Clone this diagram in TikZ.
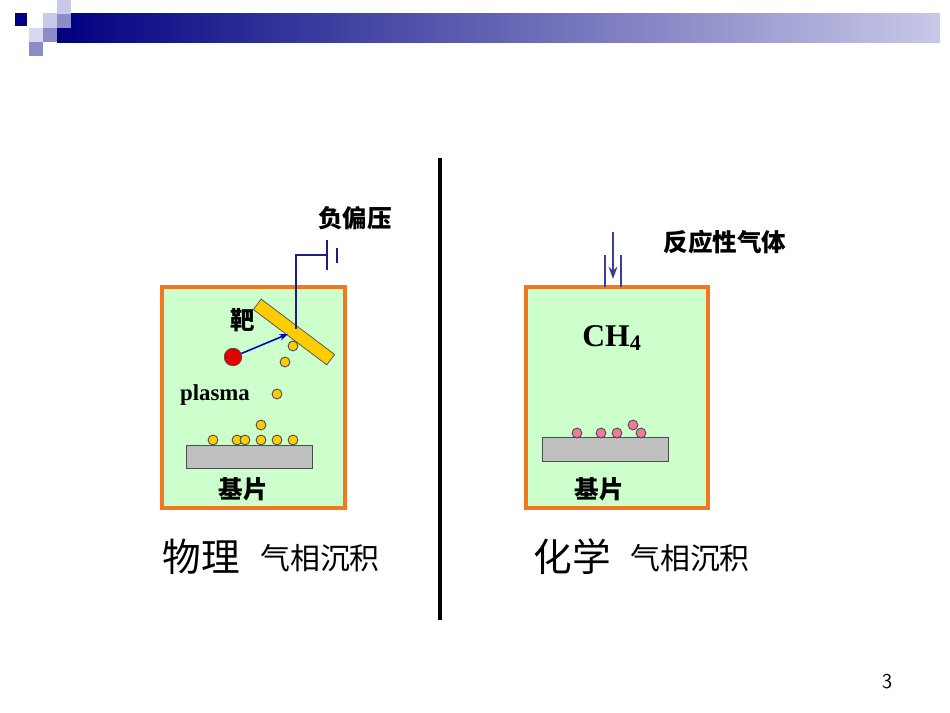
\documentclass[tikz,border=0pt]{standalone}
\usepackage{fontspec}
\setmainfont{Liberation Serif}
\newfontfamily\cjk{Noto Sans CJK SC}
\usetikzlibrary{arrows.meta}
\definecolor{navy}{HTML}{000080}
\definecolor{lav}{HTML}{C8C8E8}
\definecolor{mid}{HTML}{8C8CC8}
\definecolor{boxfill}{HTML}{CCFFCC}
\definecolor{boxline}{HTML}{F07820}
\definecolor{wire}{HTML}{1C1C8C}
\definecolor{pipe}{HTML}{3C3CA0}
\definecolor{gold}{HTML}{FFCC00}
\definecolor{pinkd}{HTML}{F07898}
\tikzset{
 chamber/.style={draw=boxline,fill=boxfill,line width=1.8pt},
 subst/.style={draw=black!70,fill=black!25,line width=0.5pt},
 ydot/.style={circle,draw=black!70,fill=gold,inner sep=0pt,minimum size=5.6pt,line width=0.5pt},
 pdot/.style={circle,draw=black!70,fill=pinkd,inner sep=0pt,minimum size=5.6pt,line width=0.5pt},
 lbl/.style={font=\cjk\bfseries\fontsize{14}{14}\selectfont},
 captext/.style={font=\cjk\fontsize{17}{17}\selectfont},
 capbig/.style={font=\cjk\fontsize{22}{22}\selectfont},
 wirel/.style={draw=wire,line width=1.1pt}
}
\begin{document}
\begin{tikzpicture}[x=0.02cm,y=-0.02cm]
\useasboundingbox (0,0) rectangle (950,713);
\fill[white] (0,0) rectangle (950,713);
% header
\shade[left color=navy,right color=lav] (57,14) rectangle (940,43);
\fill[navy] (15,13) rectangle (27,26);
\fill[lav] (43,13) rectangle (57,28);
\fill[lav] (57,0) rectangle (71,14);
\fill[mid] (57,14) rectangle (71,28);
\fill[lav!70] (29,28) rectangle (43,42);
\fill[mid] (43,28) rectangle (57,42);
\fill[mid] (29,42) rectangle (43,56);
% divider
\draw[line width=2.5pt] (440,158) -- (440,620);
% left chamber
\node[chamber,minimum width=183*0.02cm,minimum height=221*0.02cm,inner sep=0pt] (ch1) at (253.5,397.5) {};
\node[subst,minimum width=126*0.02cm,minimum height=23*0.02cm,inner sep=0pt] (s1) at (249,456.5) {};
\node[draw=black!70,fill=gold,rotate=-37,minimum width=92*0.02cm,minimum height=13*0.02cm,inner sep=0pt] (tgt) at (294,332) {};
\coordinate (w0) at (296,329);
\coordinate (w1) at (296,255);
\coordinate (w2) at (327,255);
\draw[wirel] (w0) -- (w1) -- (w2);
\draw[wirel] (327,240) -- (327,270);
\draw[wirel] (337,248) -- (337,263);
\node[lbl] (nb) at (355,218) {负偏压};
\node[lbl] (ba) at (243,320) {靶};
\node[circle,draw=black!70,fill=red!90!black,minimum size=10pt,inner sep=0pt] (ion) at (233,357) {};
\draw[black!80,line width=0.5pt] (225,357) -- (241,357) (233,349) -- (233,365);
\coordinate (hit) at (288,334);
\draw[-{Stealth[length=5pt]},blue!80!black,line width=0.9pt] (ion) -- (hit);
\foreach \p [count=\i] in {(293,346),(285,362),(277,394),(261,425),(213,440),(237,440),(245,440),(261,440),(277,440),(293,440)}
  \node[ydot] (y\i) at \p {};
\node[font=\bfseries\fontsize{13}{13}\selectfont] (pl) at (215,395) {plasma};
\node[lbl] (jp1) at (243,489) {基片};
% right chamber
\node[chamber,minimum width=182*0.02cm,minimum height=221*0.02cm,inner sep=0pt] (ch2) at (617,397.5) {};
\node[subst,minimum width=126*0.02cm,minimum height=24*0.02cm,inner sep=0pt] (s2) at (605,449) {};
\draw[draw=pipe,line width=1.4pt] (605,255) -- (605,287) (621,255) -- (621,287);
\coordinate (g0) at (613,232);
\coordinate (g1) at (613,279);
\draw[draw=pipe,line width=1.1pt,-{Stealth[length=7pt,width=5pt]}] (g0) -- (g1);
\node[lbl] (fy) at (725,242) {反应性气体};
\node[font=\bfseries\fontsize{18}{18}\selectfont] (ch4) at (612,338) {CH\textsubscript{4}};
\foreach \p [count=\i] in {(577,433),(601,433),(617,433),(633,425),(641,433)}
  \node[pdot] (p\i) at \p {};
\node[lbl] (jp2) at (599,489) {基片};
% captions
\node[capbig] (wl) at (201,557) {物理};
\node[captext] (q1) at (320,558) {气相沉积};
\node[capbig] (hx) at (572,557) {化学};
\node[captext] (q2) at (690,558) {气相沉积};
\node[font=\sffamily\fontsize{12}{12}\selectfont] (pg) at (887,682) {3};
\end{tikzpicture}
\end{document}
